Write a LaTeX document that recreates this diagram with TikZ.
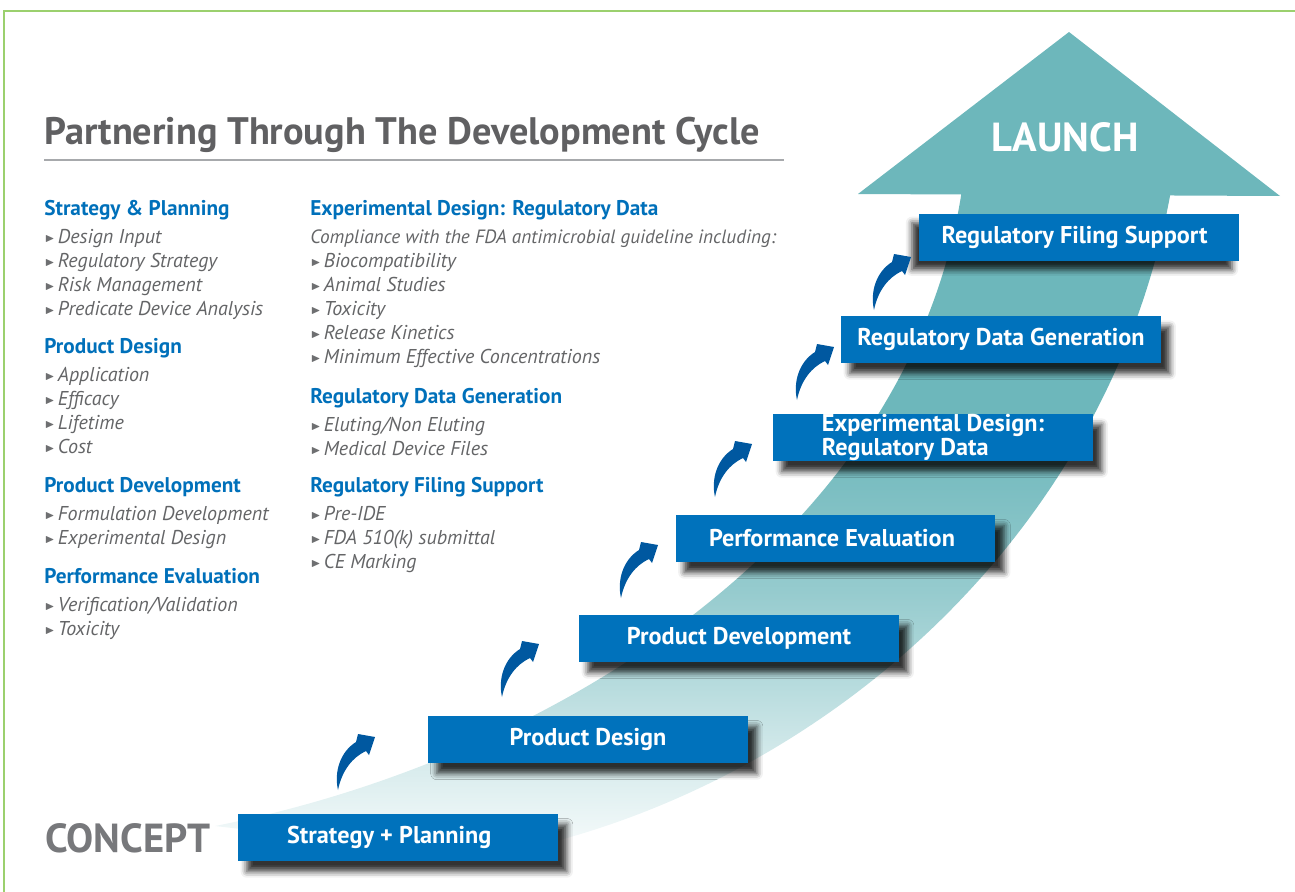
\documentclass[tikz,border=0pt]{standalone}
\usepackage{amssymb}
\usepackage{fontspec}
\usepackage{tikz}
\usetikzlibrary{shadows.blur}
\newfontfamily\dinfont{PT Sans}

\definecolor{stepblue}{RGB}{0,114,188}
\definecolor{headblue}{RGB}{0,112,186}
\definecolor{riserblue}{RGB}{0,88,160}
\definecolor{bandteal}{RGB}{109,183,187}
\definecolor{titlegray}{RGB}{96,96,98}
\definecolor{conceptgray}{RGB}{119,120,123}
\definecolor{itemgray}{RGB}{100,101,103}
\definecolor{bulletgray}{RGB}{110,111,113}
\definecolor{rulegray}{RGB}{167,169,172}
\definecolor{framegreen}{RGB}{155,208,110}

\pgfdeclareverticalshading{bandfade}{100bp}{color(0bp)=(bandteal!8); color(25bp)=(bandteal!8); color(31bp)=(bandteal!28); color(37bp)=(bandteal!50); color(44bp)=(bandteal!72); color(52bp)=(bandteal!90); color(58bp)=(bandteal); color(100bp)=(bandteal)}

\tikzstyle{stepbox}=[fill=stepblue, text=white, minimum width=6.4cm, minimum height=0.94cm, inner sep=0pt, font=\dinfont\bfseries\fontsize{13.8}{13.7}\selectfont]
\tikzstyle{liftright}=[blur shadow={shadow xshift=5pt, shadow yshift=-6pt, shadow blur radius=3.5pt, shadow opacity=80}]
\tikzstyle{liftleft}=[blur shadow={shadow xshift=-4pt, shadow yshift=-5pt, shadow blur radius=3.5pt, shadow opacity=80}]
\tikzstyle{sect}=[anchor=base west, align=left, inner sep=0pt, text=itemgray, font=\dinfont\fontsize{11.4}{13.66}\selectfont]
\tikzstyle{bigword}=[anchor=base west, inner sep=0pt, font=\dinfont\bfseries\fontsize{23.1}{28}\selectfont]

\newcommand{\sechead}[1]{{\color{headblue}\bfseries\fontsize{12.1}{13.66}\selectfont #1}}
\newcommand{\secitem}[1]{\makebox[7.7pt][l]{\color{bulletgray}\raisebox{1pt}{$\scriptscriptstyle\blacktriangleright$}}\textit{#1}}

\begin{document}
\begin{tikzpicture}[x=0.02cm, y=-0.02cm]
\useasboundingbox (0,0) rectangle (1295,892);
\draw[framegreen, line width=1.1pt] (1295,11) -- (4,11) -- (4,892);

% rising band and its head
\shade[shading=bandfade] (215,826) .. controls (550,760) and (905,540) .. (961,196) -- (962,186) -- (1171,186) -- (1170,196) .. controls (1110,520) and (850,760) .. (560,840) -- (300,836) -- cycle;
\fill[bandteal] (858,194) -- (1069,32) -- (1280,196) -- cycle;
\node[bigword, text=white] (launch) at (991,152) {LAUNCH};
\node[bigword, text=conceptgray] (concept) at (45,852) {CONCEPT};

% title
\node[anchor=base west, inner sep=0pt, text=titlegray, font=\dinfont\bfseries\fontsize{21.8}{26}\selectfont] (title) at (44,145) {Partnering Through The Development Cycle};
\draw[rulegray, line width=1.1pt] (44,160) -- (784,160);

% text columns (anchored at the last line)
\node[sect] (spList) at (44,315) {\sechead{Strategy \& Planning}\\[2.27pt] \secitem{Design Input}\\ \secitem{Regulatory Strategy}\\ \secitem{Risk Management}\\ \secitem{Predicate Device Analysis}};
\node[sect] (pdList) at (44,453) {\sechead{Product Design}\\[2.27pt] \secitem{Application}\\ \secitem{Efficacy}\\ \secitem{Lifetime}\\ \secitem{Cost}};
\node[sect] (pdevList) at (44,544) {\sechead{Product Development}\\[2.27pt] \secitem{Formulation Development}\\ \secitem{Experimental Design}};
\node[sect] (peList) at (44,635) {\sechead{Performance Evaluation}\\[2.27pt] \secitem{Verification/Validation}\\ \secitem{Toxicity}};
\node[sect] (edrdList) at (310,363) {\sechead{Experimental Design: Regulatory Data}\\[2.27pt] {\fontsize{10.95}{13.66}\selectfont\textit{Compliance with the FDA antimicrobial guideline including:}}\\ \secitem{Biocompatibility}\\ \secitem{Animal Studies}\\ \secitem{Toxicity}\\ \secitem{Release Kinetics}\\ \secitem{Minimum Effective Concentrations}};
\node[sect] (rdgList) at (310,455) {\sechead{Regulatory Data Generation}\\[2.27pt] \secitem{Eluting/Non Eluting}\\ \secitem{Medical Device Files}};
\node[sect] (rfsList) at (310,568) {\sechead{Regulatory Filing Support}\\[2.27pt] \secitem{Pre-IDE}\\ \secitem{FDA 510(k) submittal}\\ \secitem{CE Marking}};

% steps
\node[stepbox, liftright] (sp) at (398,837.5) {Strategy + Planning\kern10pt};
\node[stepbox, liftright] (pd) at (588,739.5) {Product Design};
\node[stepbox, liftright] (pdev) at (739,638.5) {Product Development};
\node[stepbox, liftright] (pe) at (835.5,538.5) {Performance Evaluation\kern4pt};
\node[stepbox, liftright, align=left] (edrd) at (933,437.5) {Experimental Design:\\Regulatory Data};
\node[stepbox, liftright] (rdg) at (1001,339.5) {Regulatory Data Generation};
\node[stepbox, liftleft] (rfs) at (1079,237.5) {Regulatory Filing Support\kern5pt};

% risers between steps
\foreach \tx/\ty in {338/790, 502/697, 621/598, 715/497, 797/400, 874/310}
  \fill[riserblue, shift={(\tx,\ty)}] (0,0) .. controls (-4,-18) and (2,-38) .. (18,-48) -- (20,-56) -- (37,-53) -- (31,-35) -- (28,-39) .. controls (15,-33) and (4,-20) .. (0,0) -- cycle;
\end{tikzpicture}
\end{document}
